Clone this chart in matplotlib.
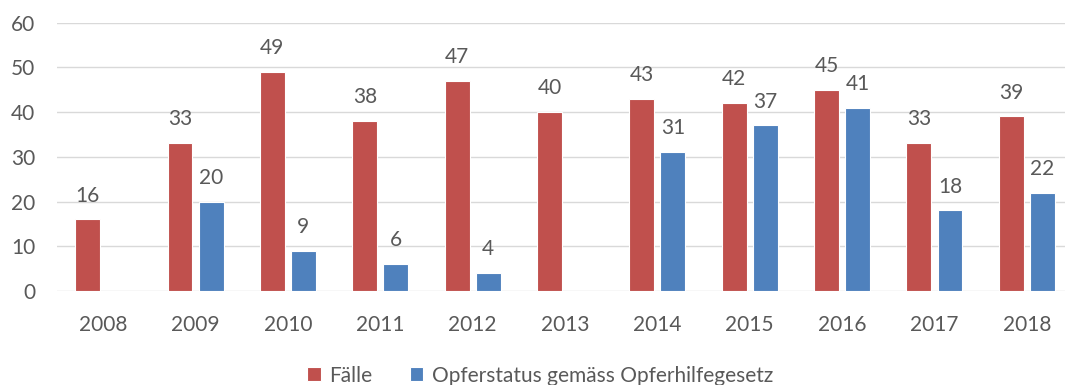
import matplotlib
matplotlib.use("Agg")
import matplotlib.pyplot as plt
import numpy as np

years = ["2008", "2009", "2010", "2011", "2012", "2013",
         "2014", "2015", "2016", "2017", "2018"]
faelle = [16, 33, 49, 38, 47, 40, 43, 42, 45, 33, 39]
opferstatus = [None, 20, 9, 6, 4, None, 31, 37, 41, 18, 22]

series_names = ["Fälle", "Opferstatus gemäss Opferhilfegesetz"]
yticks = [0, 10, 20, 30, 40, 50, 60]

RED = "#C0504D"
BLUE = "#4F81BD"
TEXT = "#595959"
GRID = "#D9D9D9"

plt.rcParams["font.family"] = ["Lato", "DejaVu Sans"]
FS = 15

W, H = 1065, 385
fig = plt.figure(figsize=(W / 100, H / 100), dpi=100)
ax = fig.add_axes([57 / W, 94 / H, 1016 / W, 268.5 / H])

x = np.arange(len(years))
bw = 0.27
off = 0.168

def draw(vals, shift, color, label):
    xs = [xi + shift for xi, v in zip(x, vals) if v is not None]
    vs = [v for v in vals if v is not None]
    bars = ax.bar(xs, vs, width=bw, color=color, edgecolor="white",
                  linewidth=0.8, label=label, zorder=3)
    for b, v in zip(bars, vs):
        ax.annotate(str(v), (b.get_x() + b.get_width() / 2, v),
                    xytext=(0, 10), textcoords="offset points",
                    ha="center", va="bottom", fontsize=FS, color=TEXT)

draw(faelle, -off, RED, series_names[0])
draw(opferstatus, off, BLUE, series_names[1])

ax.set_xlim(-0.5, len(years) - 0.5)
ax.set_ylim(0, 60)
ax.set_yticks(yticks)
ax.set_xticks(x)
ax.set_xticklabels(years)
ax.yaxis.grid(True, color=GRID, linewidth=1, zorder=0)
ax.set_axisbelow(True)
for s in ax.spines.values():
    s.set_visible(False)
ax.tick_params(axis="both", length=0, labelsize=FS, colors=TEXT)
ax.tick_params(axis="y", pad=15.5)
ax.tick_params(axis="x", pad=17)

leg = fig.legend(loc="lower center", bbox_to_anchor=(540 / W, -0.05), ncol=2,
                 frameon=False, fontsize=FS, handlelength=0.65, handleheight=0.65,
                 handletextpad=0.4, columnspacing=1.8)
for t in leg.get_texts():
    t.set_color(TEXT)

fig.savefig("out.png", dpi=100)
